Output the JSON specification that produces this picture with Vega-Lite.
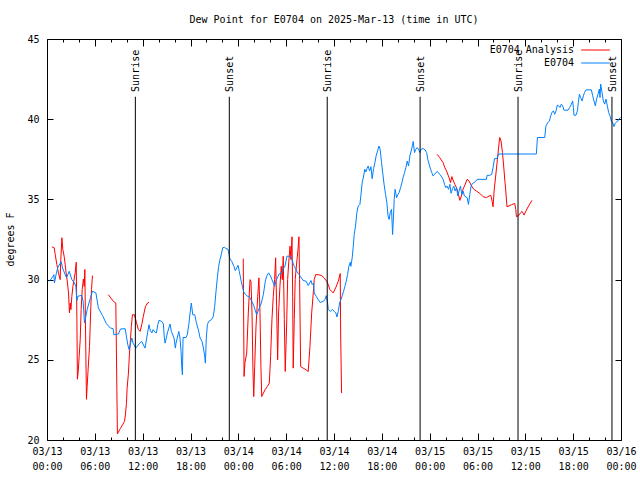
{
"$schema": "https://vega.github.io/schema/vega-lite/v6.json",
"width": 574, "height": 401,
"autosize": {"type": "none"},
"padding": {"left": 47, "top": 39, "right": 19, "bottom": 40},
"title": {"text": "Dew Point for E0704 on 2025-Mar-13 (time in UTC)", "font": "DejaVu Sans Mono", "fontSize": 10, "fontWeight": "normal", "color": "black", "anchor": "middle", "offset": 9},
"config": {
  "view": {"stroke": "black", "strokeWidth": 1},
  "axis": {"labelFont": "DejaVu Sans Mono", "labelFontSize": 10, "labelColor": "black", "tickColor": "black", "tickWidth": 1, "titleFont": "DejaVu Sans Mono", "titleFontSize": 10, "titleFontWeight": "normal", "titleColor": "black", "grid": false, "domain": false, "labelFlush": false, "labelOverlap": false}
},
"resolve": {"scale": {"x": "shared", "y": "shared"}, "axis": {"x": "independent", "y": "independent"}},
"datasets": {
"sun": [
{"t":"2025-03-13T11:05Z","label":"Sunrise"},
{"t":"2025-03-13T22:52Z","label":"Sunset"},
{"t":"2025-03-14T11:09Z","label":"Sunrise"},
{"t":"2025-03-14T22:48Z","label":"Sunset"},
{"t":"2025-03-15T11:05Z","label":"Sunrise"},
{"t":"2025-03-15T22:52Z","label":"Sunset"}
],
"obs": [
{"s":"E0704 Analysis","g":1,"t":"2025-03-13T00:37Z","v":32.04},
{"s":"E0704 Analysis","g":1,"t":"2025-03-13T00:54Z","v":31.98},
{"s":"E0704 Analysis","g":1,"t":"2025-03-13T01:02Z","v":31.56},
{"s":"E0704 Analysis","g":1,"t":"2025-03-13T01:14Z","v":30.94},
{"s":"E0704 Analysis","g":1,"t":"2025-03-13T01:26Z","v":30.42},
{"s":"E0704 Analysis","g":1,"t":"2025-03-13T01:39Z","v":30.0},
{"s":"E0704 Analysis","g":1,"t":"2025-03-13T01:44Z","v":31.25},
{"s":"E0704 Analysis","g":1,"t":"2025-03-13T01:52Z","v":32.61},
{"s":"E0704 Analysis","g":1,"t":"2025-03-13T01:59Z","v":31.88},
{"s":"E0704 Analysis","g":1,"t":"2025-03-13T02:09Z","v":31.46},
{"s":"E0704 Analysis","g":1,"t":"2025-03-13T02:17Z","v":30.94},
{"s":"E0704 Analysis","g":1,"t":"2025-03-13T02:24Z","v":30.42},
{"s":"E0704 Analysis","g":1,"t":"2025-03-13T02:34Z","v":29.79},
{"s":"E0704 Analysis","g":1,"t":"2025-03-13T02:42Z","v":29.17},
{"s":"E0704 Analysis","g":1,"t":"2025-03-13T02:49Z","v":27.92},
{"s":"E0704 Analysis","g":1,"t":"2025-03-13T02:55Z","v":28.54},
{"s":"E0704 Analysis","g":1,"t":"2025-03-13T03:00Z","v":28.13},
{"s":"E0704 Analysis","g":1,"t":"2025-03-13T03:07Z","v":28.96},
{"s":"E0704 Analysis","g":1,"t":"2025-03-13T03:15Z","v":29.58},
{"s":"E0704 Analysis","g":1,"t":"2025-03-13T03:32Z","v":30.42},
{"s":"E0704 Analysis","g":1,"t":"2025-03-13T03:40Z","v":31.08},
{"s":"E0704 Analysis","g":1,"t":"2025-03-13T03:45Z","v":27.5},
{"s":"E0704 Analysis","g":1,"t":"2025-03-13T03:49Z","v":23.79},
{"s":"E0704 Analysis","g":1,"t":"2025-03-13T03:55Z","v":24.27},
{"s":"E0704 Analysis","g":1,"t":"2025-03-13T04:02Z","v":25.21},
{"s":"E0704 Analysis","g":1,"t":"2025-03-13T04:10Z","v":26.25},
{"s":"E0704 Analysis","g":1,"t":"2025-03-13T04:17Z","v":28.13},
{"s":"E0704 Analysis","g":1,"t":"2025-03-13T04:25Z","v":29.38},
{"s":"E0704 Analysis","g":1,"t":"2025-03-13T04:34Z","v":30.04},
{"s":"E0704 Analysis","g":1,"t":"2025-03-13T04:40Z","v":29.58},
{"s":"E0704 Analysis","g":1,"t":"2025-03-13T04:45Z","v":30.63},
{"s":"E0704 Analysis","g":1,"t":"2025-03-13T04:49Z","v":27.5},
{"s":"E0704 Analysis","g":1,"t":"2025-03-13T04:57Z","v":22.54},
{"s":"E0704 Analysis","g":1,"t":"2025-03-13T05:02Z","v":23.33},
{"s":"E0704 Analysis","g":1,"t":"2025-03-13T05:10Z","v":24.48},
{"s":"E0704 Analysis","g":1,"t":"2025-03-13T05:20Z","v":25.83},
{"s":"E0704 Analysis","g":1,"t":"2025-03-13T05:25Z","v":27.08},
{"s":"E0704 Analysis","g":1,"t":"2025-03-13T05:30Z","v":28.33},
{"s":"E0704 Analysis","g":1,"t":"2025-03-13T05:35Z","v":29.38},
{"s":"E0704 Analysis","g":1,"t":"2025-03-13T05:42Z","v":30.25},
{"s":"E0704 Analysis","g":2,"t":"2025-03-13T07:42Z","v":29.06},
{"s":"E0704 Analysis","g":2,"t":"2025-03-13T08:00Z","v":28.85},
{"s":"E0704 Analysis","g":2,"t":"2025-03-13T08:20Z","v":28.64},
{"s":"E0704 Analysis","g":2,"t":"2025-03-13T08:38Z","v":28.54},
{"s":"E0704 Analysis","g":2,"t":"2025-03-13T08:50Z","v":20.38},
{"s":"E0704 Analysis","g":2,"t":"2025-03-13T08:58Z","v":20.5},
{"s":"E0704 Analysis","g":2,"t":"2025-03-13T09:13Z","v":20.73},
{"s":"E0704 Analysis","g":2,"t":"2025-03-13T09:28Z","v":20.94},
{"s":"E0704 Analysis","g":2,"t":"2025-03-13T09:43Z","v":21.15},
{"s":"E0704 Analysis","g":2,"t":"2025-03-13T09:50Z","v":21.56},
{"s":"E0704 Analysis","g":2,"t":"2025-03-13T09:58Z","v":22.29},
{"s":"E0704 Analysis","g":2,"t":"2025-03-13T10:03Z","v":23.23},
{"s":"E0704 Analysis","g":2,"t":"2025-03-13T10:13Z","v":24.17},
{"s":"E0704 Analysis","g":2,"t":"2025-03-13T10:20Z","v":25.31},
{"s":"E0704 Analysis","g":2,"t":"2025-03-13T10:28Z","v":26.25},
{"s":"E0704 Analysis","g":2,"t":"2025-03-13T10:35Z","v":27.08},
{"s":"E0704 Analysis","g":2,"t":"2025-03-13T10:43Z","v":27.81},
{"s":"E0704 Analysis","g":2,"t":"2025-03-13T10:58Z","v":27.81},
{"s":"E0704 Analysis","g":2,"t":"2025-03-13T11:13Z","v":27.33},
{"s":"E0704 Analysis","g":2,"t":"2025-03-13T11:28Z","v":26.88},
{"s":"E0704 Analysis","g":2,"t":"2025-03-13T11:41Z","v":26.77},
{"s":"E0704 Analysis","g":2,"t":"2025-03-13T11:53Z","v":27.19},
{"s":"E0704 Analysis","g":2,"t":"2025-03-13T12:05Z","v":27.71},
{"s":"E0704 Analysis","g":2,"t":"2025-03-13T12:21Z","v":28.33},
{"s":"E0704 Analysis","g":2,"t":"2025-03-13T12:36Z","v":28.54},
{"s":"E0704 Analysis","g":2,"t":"2025-03-13T12:48Z","v":28.58},
{"s":"E0704 Analysis","g":3,"t":"2025-03-14T00:37Z","v":31.31},
{"s":"E0704 Analysis","g":3,"t":"2025-03-14T00:43Z","v":23.96},
{"s":"E0704 Analysis","g":3,"t":"2025-03-14T00:50Z","v":24.81},
{"s":"E0704 Analysis","g":3,"t":"2025-03-14T01:03Z","v":25.42},
{"s":"E0704 Analysis","g":3,"t":"2025-03-14T01:15Z","v":27.92},
{"s":"E0704 Analysis","g":3,"t":"2025-03-14T01:28Z","v":30.0},
{"s":"E0704 Analysis","g":3,"t":"2025-03-14T01:35Z","v":29.89},
{"s":"E0704 Analysis","g":3,"t":"2025-03-14T01:43Z","v":27.92},
{"s":"E0704 Analysis","g":3,"t":"2025-03-14T01:50Z","v":24.38},
{"s":"E0704 Analysis","g":3,"t":"2025-03-14T01:56Z","v":22.71},
{"s":"E0704 Analysis","g":3,"t":"2025-03-14T02:03Z","v":24.58},
{"s":"E0704 Analysis","g":3,"t":"2025-03-14T02:13Z","v":27.08},
{"s":"E0704 Analysis","g":3,"t":"2025-03-14T02:26Z","v":28.96},
{"s":"E0704 Analysis","g":3,"t":"2025-03-14T02:35Z","v":30.11},
{"s":"E0704 Analysis","g":3,"t":"2025-03-14T02:43Z","v":27.92},
{"s":"E0704 Analysis","g":3,"t":"2025-03-14T02:50Z","v":24.58},
{"s":"E0704 Analysis","g":3,"t":"2025-03-14T02:56Z","v":22.71},
{"s":"E0704 Analysis","g":3,"t":"2025-03-14T03:21Z","v":23.13},
{"s":"E0704 Analysis","g":3,"t":"2025-03-14T03:38Z","v":23.33},
{"s":"E0704 Analysis","g":3,"t":"2025-03-14T03:53Z","v":23.54},
{"s":"E0704 Analysis","g":3,"t":"2025-03-14T04:03Z","v":25.21},
{"s":"E0704 Analysis","g":3,"t":"2025-03-14T04:13Z","v":27.5},
{"s":"E0704 Analysis","g":3,"t":"2025-03-14T04:23Z","v":28.96},
{"s":"E0704 Analysis","g":3,"t":"2025-03-14T04:33Z","v":30.0},
{"s":"E0704 Analysis","g":3,"t":"2025-03-14T04:41Z","v":31.36},
{"s":"E0704 Analysis","g":3,"t":"2025-03-14T04:48Z","v":28.33},
{"s":"E0704 Analysis","g":3,"t":"2025-03-14T04:56Z","v":25.0},
{"s":"E0704 Analysis","g":3,"t":"2025-03-14T05:03Z","v":27.92},
{"s":"E0704 Analysis","g":3,"t":"2025-03-14T05:13Z","v":29.58},
{"s":"E0704 Analysis","g":3,"t":"2025-03-14T05:23Z","v":30.83},
{"s":"E0704 Analysis","g":3,"t":"2025-03-14T05:31Z","v":30.0},
{"s":"E0704 Analysis","g":3,"t":"2025-03-14T05:38Z","v":31.46},
{"s":"E0704 Analysis","g":3,"t":"2025-03-14T05:46Z","v":27.5},
{"s":"E0704 Analysis","g":3,"t":"2025-03-14T05:53Z","v":24.27},
{"s":"E0704 Analysis","g":3,"t":"2025-03-14T06:04Z","v":27.29},
{"s":"E0704 Analysis","g":3,"t":"2025-03-14T06:11Z","v":30.0},
{"s":"E0704 Analysis","g":3,"t":"2025-03-14T06:19Z","v":31.04},
{"s":"E0704 Analysis","g":3,"t":"2025-03-14T06:29Z","v":32.08},
{"s":"E0704 Analysis","g":3,"t":"2025-03-14T06:36Z","v":31.25},
{"s":"E0704 Analysis","g":3,"t":"2025-03-14T06:44Z","v":32.67},
{"s":"E0704 Analysis","g":3,"t":"2025-03-14T06:49Z","v":28.96},
{"s":"E0704 Analysis","g":3,"t":"2025-03-14T06:53Z","v":24.48},
{"s":"E0704 Analysis","g":3,"t":"2025-03-14T07:01Z","v":27.5},
{"s":"E0704 Analysis","g":3,"t":"2025-03-14T07:08Z","v":30.0},
{"s":"E0704 Analysis","g":3,"t":"2025-03-14T07:19Z","v":31.04},
{"s":"E0704 Analysis","g":3,"t":"2025-03-14T07:29Z","v":31.88},
{"s":"E0704 Analysis","g":3,"t":"2025-03-14T07:36Z","v":32.67},
{"s":"E0704 Analysis","g":3,"t":"2025-03-14T07:41Z","v":30.0},
{"s":"E0704 Analysis","g":3,"t":"2025-03-14T07:49Z","v":24.58},
{"s":"E0704 Analysis","g":3,"t":"2025-03-14T08:08Z","v":24.48},
{"s":"E0704 Analysis","g":3,"t":"2025-03-14T08:29Z","v":24.38},
{"s":"E0704 Analysis","g":3,"t":"2025-03-14T08:46Z","v":24.27},
{"s":"E0704 Analysis","g":3,"t":"2025-03-14T08:59Z","v":25.83},
{"s":"E0704 Analysis","g":3,"t":"2025-03-14T09:12Z","v":27.92},
{"s":"E0704 Analysis","g":3,"t":"2025-03-14T09:24Z","v":29.17},
{"s":"E0704 Analysis","g":3,"t":"2025-03-14T09:31Z","v":30.0},
{"s":"E0704 Analysis","g":3,"t":"2025-03-14T09:42Z","v":30.31},
{"s":"E0704 Analysis","g":3,"t":"2025-03-14T10:01Z","v":30.31},
{"s":"E0704 Analysis","g":3,"t":"2025-03-14T10:27Z","v":30.25},
{"s":"E0704 Analysis","g":3,"t":"2025-03-14T10:46Z","v":30.11},
{"s":"E0704 Analysis","g":3,"t":"2025-03-14T11:05Z","v":29.89},
{"s":"E0704 Analysis","g":3,"t":"2025-03-14T11:17Z","v":29.69},
{"s":"E0704 Analysis","g":3,"t":"2025-03-14T11:29Z","v":29.38},
{"s":"E0704 Analysis","g":3,"t":"2025-03-14T11:54Z","v":29.17},
{"s":"E0704 Analysis","g":3,"t":"2025-03-14T12:12Z","v":29.48},
{"s":"E0704 Analysis","g":3,"t":"2025-03-14T12:32Z","v":29.89},
{"s":"E0704 Analysis","g":3,"t":"2025-03-14T12:47Z","v":30.38},
{"s":"E0704 Analysis","g":3,"t":"2025-03-14T12:50Z","v":26.67},
{"s":"E0704 Analysis","g":3,"t":"2025-03-14T12:57Z","v":22.92},
{"s":"E0704 Analysis","g":4,"t":"2025-03-15T00:56Z","v":37.81},
{"s":"E0704 Analysis","g":4,"t":"2025-03-15T01:16Z","v":37.6},
{"s":"E0704 Analysis","g":4,"t":"2025-03-15T01:41Z","v":37.29},
{"s":"E0704 Analysis","g":4,"t":"2025-03-15T01:54Z","v":36.98},
{"s":"E0704 Analysis","g":4,"t":"2025-03-15T02:07Z","v":36.77},
{"s":"E0704 Analysis","g":4,"t":"2025-03-15T02:26Z","v":36.35},
{"s":"E0704 Analysis","g":4,"t":"2025-03-15T02:37Z","v":36.04},
{"s":"E0704 Analysis","g":4,"t":"2025-03-15T02:47Z","v":36.42},
{"s":"E0704 Analysis","g":4,"t":"2025-03-15T02:56Z","v":36.21},
{"s":"E0704 Analysis","g":4,"t":"2025-03-15T03:09Z","v":35.94},
{"s":"E0704 Analysis","g":4,"t":"2025-03-15T03:22Z","v":35.73},
{"s":"E0704 Analysis","g":4,"t":"2025-03-15T03:34Z","v":35.42},
{"s":"E0704 Analysis","g":4,"t":"2025-03-15T03:47Z","v":34.94},
{"s":"E0704 Analysis","g":4,"t":"2025-03-15T03:59Z","v":35.21},
{"s":"E0704 Analysis","g":4,"t":"2025-03-15T04:11Z","v":35.63},
{"s":"E0704 Analysis","g":4,"t":"2025-03-15T04:27Z","v":35.94},
{"s":"E0704 Analysis","g":4,"t":"2025-03-15T04:42Z","v":36.25},
{"s":"E0704 Analysis","g":4,"t":"2025-03-15T04:57Z","v":36.14},
{"s":"E0704 Analysis","g":4,"t":"2025-03-15T05:15Z","v":35.83},
{"s":"E0704 Analysis","g":4,"t":"2025-03-15T05:32Z","v":35.63},
{"s":"E0704 Analysis","g":4,"t":"2025-03-15T05:52Z","v":35.52},
{"s":"E0704 Analysis","g":4,"t":"2025-03-15T06:17Z","v":35.38},
{"s":"E0704 Analysis","g":4,"t":"2025-03-15T06:42Z","v":35.17},
{"s":"E0704 Analysis","g":4,"t":"2025-03-15T07:07Z","v":35.11},
{"s":"E0704 Analysis","g":4,"t":"2025-03-15T07:27Z","v":35.21},
{"s":"E0704 Analysis","g":4,"t":"2025-03-15T07:40Z","v":35.25},
{"s":"E0704 Analysis","g":4,"t":"2025-03-15T07:50Z","v":34.89},
{"s":"E0704 Analysis","g":4,"t":"2025-03-15T07:57Z","v":34.54},
{"s":"E0704 Analysis","g":4,"t":"2025-03-15T08:05Z","v":35.52},
{"s":"E0704 Analysis","g":4,"t":"2025-03-15T08:17Z","v":36.46},
{"s":"E0704 Analysis","g":4,"t":"2025-03-15T08:30Z","v":37.5},
{"s":"E0704 Analysis","g":4,"t":"2025-03-15T08:40Z","v":38.33},
{"s":"E0704 Analysis","g":4,"t":"2025-03-15T08:47Z","v":38.86},
{"s":"E0704 Analysis","g":4,"t":"2025-03-15T08:57Z","v":38.64},
{"s":"E0704 Analysis","g":4,"t":"2025-03-15T09:08Z","v":37.92},
{"s":"E0704 Analysis","g":4,"t":"2025-03-15T09:17Z","v":37.08},
{"s":"E0704 Analysis","g":4,"t":"2025-03-15T09:27Z","v":36.04},
{"s":"E0704 Analysis","g":4,"t":"2025-03-15T09:33Z","v":35.52},
{"s":"E0704 Analysis","g":4,"t":"2025-03-15T09:42Z","v":34.54},
{"s":"E0704 Analysis","g":4,"t":"2025-03-15T10:16Z","v":34.67},
{"s":"E0704 Analysis","g":4,"t":"2025-03-15T10:40Z","v":34.75},
{"s":"E0704 Analysis","g":4,"t":"2025-03-15T10:48Z","v":34.38},
{"s":"E0704 Analysis","g":4,"t":"2025-03-15T10:53Z","v":33.92},
{"s":"E0704 Analysis","g":4,"t":"2025-03-15T11:10Z","v":34.0},
{"s":"E0704 Analysis","g":4,"t":"2025-03-15T11:25Z","v":34.17},
{"s":"E0704 Analysis","g":4,"t":"2025-03-15T11:35Z","v":34.25},
{"s":"E0704 Analysis","g":4,"t":"2025-03-15T11:46Z","v":34.11},
{"s":"E0704 Analysis","g":4,"t":"2025-03-15T11:50Z","v":34.02},
{"s":"E0704 Analysis","g":4,"t":"2025-03-15T12:01Z","v":34.21},
{"s":"E0704 Analysis","g":4,"t":"2025-03-15T12:16Z","v":34.46},
{"s":"E0704 Analysis","g":4,"t":"2025-03-15T12:33Z","v":34.71},
{"s":"E0704 Analysis","g":4,"t":"2025-03-15T12:50Z","v":34.94},
{"s":"E0704","g":0,"t":"2025-03-13T00:17Z","v":29.89},
{"s":"E0704","g":0,"t":"2025-03-13T00:41Z","v":30.14},
{"s":"E0704","g":0,"t":"2025-03-13T00:52Z","v":30.31},
{"s":"E0704","g":0,"t":"2025-03-13T00:56Z","v":29.79},
{"s":"E0704","g":0,"t":"2025-03-13T01:11Z","v":30.42},
{"s":"E0704","g":0,"t":"2025-03-13T01:22Z","v":30.77},
{"s":"E0704","g":0,"t":"2025-03-13T01:47Z","v":31.11},
{"s":"E0704","g":0,"t":"2025-03-13T01:57Z","v":30.73},
{"s":"E0704","g":0,"t":"2025-03-13T02:17Z","v":30.31},
{"s":"E0704","g":0,"t":"2025-03-13T02:27Z","v":30.11},
{"s":"E0704","g":0,"t":"2025-03-13T02:47Z","v":30.52},
{"s":"E0704","g":0,"t":"2025-03-13T03:07Z","v":30.0},
{"s":"E0704","g":0,"t":"2025-03-13T03:27Z","v":29.79},
{"s":"E0704","g":0,"t":"2025-03-13T03:37Z","v":29.58},
{"s":"E0704","g":0,"t":"2025-03-13T03:45Z","v":28.69},
{"s":"E0704","g":0,"t":"2025-03-13T03:52Z","v":28.96},
{"s":"E0704","g":0,"t":"2025-03-13T04:22Z","v":29.02},
{"s":"E0704","g":0,"t":"2025-03-13T04:32Z","v":28.64},
{"s":"E0704","g":0,"t":"2025-03-13T04:42Z","v":27.29},
{"s":"E0704","g":0,"t":"2025-03-13T05:02Z","v":28.13},
{"s":"E0704","g":0,"t":"2025-03-13T05:23Z","v":28.75},
{"s":"E0704","g":0,"t":"2025-03-13T05:42Z","v":29.27},
{"s":"E0704","g":0,"t":"2025-03-13T06:08Z","v":29.17},
{"s":"E0704","g":0,"t":"2025-03-13T06:27Z","v":28.23},
{"s":"E0704","g":0,"t":"2025-03-13T06:57Z","v":27.77},
{"s":"E0704","g":0,"t":"2025-03-13T07:27Z","v":27.25},
{"s":"E0704","g":0,"t":"2025-03-13T07:57Z","v":26.98},
{"s":"E0704","g":0,"t":"2025-03-13T08:18Z","v":26.94},
{"s":"E0704","g":0,"t":"2025-03-13T08:23Z","v":26.56},
{"s":"E0704","g":0,"t":"2025-03-13T08:58Z","v":26.61},
{"s":"E0704","g":0,"t":"2025-03-13T09:13Z","v":26.92},
{"s":"E0704","g":0,"t":"2025-03-13T09:48Z","v":26.94},
{"s":"E0704","g":0,"t":"2025-03-13T10:08Z","v":25.94},
{"s":"E0704","g":0,"t":"2025-03-13T10:18Z","v":25.63},
{"s":"E0704","g":0,"t":"2025-03-13T10:38Z","v":26.36},
{"s":"E0704","g":0,"t":"2025-03-13T10:48Z","v":26.04},
{"s":"E0704","g":0,"t":"2025-03-13T11:08Z","v":25.73},
{"s":"E0704","g":0,"t":"2025-03-13T11:38Z","v":26.04},
{"s":"E0704","g":0,"t":"2025-03-13T11:53Z","v":26.14},
{"s":"E0704","g":0,"t":"2025-03-13T12:18Z","v":25.73},
{"s":"E0704","g":0,"t":"2025-03-13T12:38Z","v":26.73},
{"s":"E0704","g":0,"t":"2025-03-13T12:48Z","v":27.19},
{"s":"E0704","g":0,"t":"2025-03-13T12:58Z","v":26.81},
{"s":"E0704","g":0,"t":"2025-03-13T13:09Z","v":26.67},
{"s":"E0704","g":0,"t":"2025-03-13T13:18Z","v":26.88},
{"s":"E0704","g":0,"t":"2025-03-13T13:33Z","v":26.73},
{"s":"E0704","g":0,"t":"2025-03-13T13:43Z","v":26.67},
{"s":"E0704","g":0,"t":"2025-03-13T13:54Z","v":27.19},
{"s":"E0704","g":0,"t":"2025-03-13T14:03Z","v":27.46},
{"s":"E0704","g":0,"t":"2025-03-13T14:24Z","v":27.39},
{"s":"E0704","g":0,"t":"2025-03-13T14:36Z","v":27.23},
{"s":"E0704","g":0,"t":"2025-03-13T14:43Z","v":26.36},
{"s":"E0704","g":0,"t":"2025-03-13T14:49Z","v":26.04},
{"s":"E0704","g":0,"t":"2025-03-13T15:06Z","v":26.67},
{"s":"E0704","g":0,"t":"2025-03-13T15:26Z","v":27.23},
{"s":"E0704","g":0,"t":"2025-03-13T15:36Z","v":26.77},
{"s":"E0704","g":0,"t":"2025-03-13T15:56Z","v":26.36},
{"s":"E0704","g":0,"t":"2025-03-13T16:06Z","v":25.73},
{"s":"E0704","g":0,"t":"2025-03-13T16:11Z","v":26.04},
{"s":"E0704","g":0,"t":"2025-03-13T16:32Z","v":26.77},
{"s":"E0704","g":0,"t":"2025-03-13T16:41Z","v":26.36},
{"s":"E0704","g":0,"t":"2025-03-13T16:49Z","v":25.52},
{"s":"E0704","g":0,"t":"2025-03-13T16:54Z","v":24.58},
{"s":"E0704","g":0,"t":"2025-03-13T16:59Z","v":24.06},
{"s":"E0704","g":0,"t":"2025-03-13T17:04Z","v":26.39},
{"s":"E0704","g":0,"t":"2025-03-13T17:26Z","v":26.39},
{"s":"E0704","g":0,"t":"2025-03-13T17:36Z","v":26.56},
{"s":"E0704","g":0,"t":"2025-03-13T17:47Z","v":27.19},
{"s":"E0704","g":0,"t":"2025-03-13T17:57Z","v":27.92},
{"s":"E0704","g":0,"t":"2025-03-13T18:06Z","v":28.54},
{"s":"E0704","g":0,"t":"2025-03-13T18:17Z","v":27.81},
{"s":"E0704","g":0,"t":"2025-03-13T18:32Z","v":27.81},
{"s":"E0704","g":0,"t":"2025-03-13T18:42Z","v":27.39},
{"s":"E0704","g":0,"t":"2025-03-13T19:02Z","v":26.77},
{"s":"E0704","g":0,"t":"2025-03-13T19:12Z","v":26.36},
{"s":"E0704","g":0,"t":"2025-03-13T19:27Z","v":26.14},
{"s":"E0704","g":0,"t":"2025-03-13T19:37Z","v":25.73},
{"s":"E0704","g":0,"t":"2025-03-13T19:47Z","v":25.21},
{"s":"E0704","g":0,"t":"2025-03-13T19:52Z","v":24.79},
{"s":"E0704","g":0,"t":"2025-03-13T19:59Z","v":26.36},
{"s":"E0704","g":0,"t":"2025-03-13T20:07Z","v":27.19},
{"s":"E0704","g":0,"t":"2025-03-13T20:17Z","v":27.39},
{"s":"E0704","g":0,"t":"2025-03-13T20:37Z","v":27.5},
{"s":"E0704","g":0,"t":"2025-03-13T20:52Z","v":27.71},
{"s":"E0704","g":0,"t":"2025-03-13T21:02Z","v":28.33},
{"s":"E0704","g":0,"t":"2025-03-13T21:12Z","v":29.27},
{"s":"E0704","g":0,"t":"2025-03-13T21:22Z","v":30.11},
{"s":"E0704","g":0,"t":"2025-03-13T21:32Z","v":30.83},
{"s":"E0704","g":0,"t":"2025-03-13T21:42Z","v":31.25},
{"s":"E0704","g":0,"t":"2025-03-13T21:52Z","v":31.56},
{"s":"E0704","g":0,"t":"2025-03-13T22:02Z","v":31.98},
{"s":"E0704","g":0,"t":"2025-03-13T22:15Z","v":32.02},
{"s":"E0704","g":0,"t":"2025-03-13T22:27Z","v":31.94},
{"s":"E0704","g":0,"t":"2025-03-13T22:42Z","v":31.89},
{"s":"E0704","g":0,"t":"2025-03-13T22:50Z","v":31.56},
{"s":"E0704","g":0,"t":"2025-03-13T22:57Z","v":31.29},
{"s":"E0704","g":0,"t":"2025-03-13T23:12Z","v":31.11},
{"s":"E0704","g":0,"t":"2025-03-13T23:27Z","v":30.83},
{"s":"E0704","g":0,"t":"2025-03-13T23:37Z","v":30.56},
{"s":"E0704","g":0,"t":"2025-03-13T23:48Z","v":30.73},
{"s":"E0704","g":0,"t":"2025-03-13T23:58Z","v":30.89},
{"s":"E0704","g":0,"t":"2025-03-14T00:07Z","v":30.52},
{"s":"E0704","g":0,"t":"2025-03-14T00:22Z","v":29.89},
{"s":"E0704","g":0,"t":"2025-03-14T00:33Z","v":29.48},
{"s":"E0704","g":0,"t":"2025-03-14T00:43Z","v":29.17},
{"s":"E0704","g":0,"t":"2025-03-14T00:58Z","v":29.06},
{"s":"E0704","g":0,"t":"2025-03-14T01:08Z","v":28.96},
{"s":"E0704","g":0,"t":"2025-03-14T01:23Z","v":28.96},
{"s":"E0704","g":0,"t":"2025-03-14T01:33Z","v":28.75},
{"s":"E0704","g":0,"t":"2025-03-14T01:48Z","v":28.54},
{"s":"E0704","g":0,"t":"2025-03-14T01:58Z","v":28.33},
{"s":"E0704","g":0,"t":"2025-03-14T02:08Z","v":28.06},
{"s":"E0704","g":0,"t":"2025-03-14T02:18Z","v":27.81},
{"s":"E0704","g":0,"t":"2025-03-14T02:28Z","v":28.02},
{"s":"E0704","g":0,"t":"2025-03-14T02:38Z","v":28.23},
{"s":"E0704","g":0,"t":"2025-03-14T02:53Z","v":28.54},
{"s":"E0704","g":0,"t":"2025-03-14T03:08Z","v":29.06},
{"s":"E0704","g":0,"t":"2025-03-14T03:23Z","v":29.89},
{"s":"E0704","g":0,"t":"2025-03-14T03:33Z","v":30.21},
{"s":"E0704","g":0,"t":"2025-03-14T03:48Z","v":30.42},
{"s":"E0704","g":0,"t":"2025-03-14T04:03Z","v":30.21},
{"s":"E0704","g":0,"t":"2025-03-14T04:13Z","v":30.0},
{"s":"E0704","g":0,"t":"2025-03-14T04:23Z","v":29.79},
{"s":"E0704","g":0,"t":"2025-03-14T04:33Z","v":29.58},
{"s":"E0704","g":0,"t":"2025-03-14T04:43Z","v":29.89},
{"s":"E0704","g":0,"t":"2025-03-14T04:53Z","v":30.11},
{"s":"E0704","g":0,"t":"2025-03-14T05:08Z","v":30.36},
{"s":"E0704","g":0,"t":"2025-03-14T05:26Z","v":30.38},
{"s":"E0704","g":0,"t":"2025-03-14T05:38Z","v":30.67},
{"s":"E0704","g":0,"t":"2025-03-14T05:51Z","v":30.83},
{"s":"E0704","g":0,"t":"2025-03-14T06:06Z","v":31.46},
{"s":"E0704","g":0,"t":"2025-03-14T06:29Z","v":31.46},
{"s":"E0704","g":0,"t":"2025-03-14T06:41Z","v":31.36},
{"s":"E0704","g":0,"t":"2025-03-14T06:51Z","v":31.04},
{"s":"E0704","g":0,"t":"2025-03-14T07:01Z","v":30.83},
{"s":"E0704","g":0,"t":"2025-03-14T07:11Z","v":30.67},
{"s":"E0704","g":0,"t":"2025-03-14T07:21Z","v":30.52},
{"s":"E0704","g":0,"t":"2025-03-14T07:31Z","v":30.38},
{"s":"E0704","g":0,"t":"2025-03-14T07:46Z","v":30.21},
{"s":"E0704","g":0,"t":"2025-03-14T08:06Z","v":29.96},
{"s":"E0704","g":0,"t":"2025-03-14T08:31Z","v":29.89},
{"s":"E0704","g":0,"t":"2025-03-14T08:46Z","v":29.63},
{"s":"E0704","g":0,"t":"2025-03-14T08:57Z","v":29.79},
{"s":"E0704","g":0,"t":"2025-03-14T09:07Z","v":29.94},
{"s":"E0704","g":0,"t":"2025-03-14T09:16Z","v":29.69},
{"s":"E0704","g":0,"t":"2025-03-14T09:27Z","v":29.79},
{"s":"E0704","g":0,"t":"2025-03-14T09:31Z","v":29.17},
{"s":"E0704","g":0,"t":"2025-03-14T09:46Z","v":28.96},
{"s":"E0704","g":0,"t":"2025-03-14T10:01Z","v":28.75},
{"s":"E0704","g":0,"t":"2025-03-14T10:16Z","v":28.58},
{"s":"E0704","g":0,"t":"2025-03-14T10:37Z","v":28.64},
{"s":"E0704","g":0,"t":"2025-03-14T10:52Z","v":28.75},
{"s":"E0704","g":0,"t":"2025-03-14T11:02Z","v":29.0},
{"s":"E0704","g":0,"t":"2025-03-14T11:12Z","v":28.54},
{"s":"E0704","g":0,"t":"2025-03-14T11:17Z","v":28.13},
{"s":"E0704","g":0,"t":"2025-03-14T11:32Z","v":28.02},
{"s":"E0704","g":0,"t":"2025-03-14T11:47Z","v":28.13},
{"s":"E0704","g":0,"t":"2025-03-14T12:02Z","v":28.02},
{"s":"E0704","g":0,"t":"2025-03-14T12:14Z","v":27.92},
{"s":"E0704","g":0,"t":"2025-03-14T12:22Z","v":27.67},
{"s":"E0704","g":0,"t":"2025-03-14T12:32Z","v":28.02},
{"s":"E0704","g":0,"t":"2025-03-14T12:42Z","v":28.54},
{"s":"E0704","g":0,"t":"2025-03-14T12:52Z","v":28.75},
{"s":"E0704","g":0,"t":"2025-03-14T13:02Z","v":29.0},
{"s":"E0704","g":0,"t":"2025-03-14T13:12Z","v":29.27},
{"s":"E0704","g":0,"t":"2025-03-14T13:22Z","v":29.58},
{"s":"E0704","g":0,"t":"2025-03-14T13:32Z","v":29.89},
{"s":"E0704","g":0,"t":"2025-03-14T13:42Z","v":30.31},
{"s":"E0704","g":0,"t":"2025-03-14T13:52Z","v":30.83},
{"s":"E0704","g":0,"t":"2025-03-14T14:02Z","v":31.08},
{"s":"E0704","g":0,"t":"2025-03-14T14:07Z","v":30.83},
{"s":"E0704","g":0,"t":"2025-03-14T14:17Z","v":31.36},
{"s":"E0704","g":0,"t":"2025-03-14T14:25Z","v":32.08},
{"s":"E0704","g":0,"t":"2025-03-14T14:32Z","v":32.81},
{"s":"E0704","g":0,"t":"2025-03-14T14:42Z","v":33.33},
{"s":"E0704","g":0,"t":"2025-03-14T14:52Z","v":34.17},
{"s":"E0704","g":0,"t":"2025-03-14T15:02Z","v":34.58},
{"s":"E0704","g":0,"t":"2025-03-14T15:15Z","v":34.69},
{"s":"E0704","g":0,"t":"2025-03-14T15:22Z","v":35.21},
{"s":"E0704","g":0,"t":"2025-03-14T15:32Z","v":36.04},
{"s":"E0704","g":0,"t":"2025-03-14T15:43Z","v":36.46},
{"s":"E0704","g":0,"t":"2025-03-14T15:52Z","v":36.88},
{"s":"E0704","g":0,"t":"2025-03-14T16:00Z","v":36.71},
{"s":"E0704","g":0,"t":"2025-03-14T16:08Z","v":36.92},
{"s":"E0704","g":0,"t":"2025-03-14T16:17Z","v":37.08},
{"s":"E0704","g":0,"t":"2025-03-14T16:28Z","v":36.77},
{"s":"E0704","g":0,"t":"2025-03-14T16:38Z","v":37.04},
{"s":"E0704","g":0,"t":"2025-03-14T16:47Z","v":36.29},
{"s":"E0704","g":0,"t":"2025-03-14T16:58Z","v":36.92},
{"s":"E0704","g":0,"t":"2025-03-14T17:08Z","v":37.29},
{"s":"E0704","g":0,"t":"2025-03-14T17:17Z","v":37.71},
{"s":"E0704","g":0,"t":"2025-03-14T17:28Z","v":38.02},
{"s":"E0704","g":0,"t":"2025-03-14T17:38Z","v":38.33},
{"s":"E0704","g":0,"t":"2025-03-14T17:47Z","v":38.13},
{"s":"E0704","g":0,"t":"2025-03-14T17:58Z","v":37.29},
{"s":"E0704","g":0,"t":"2025-03-14T18:08Z","v":36.56},
{"s":"E0704","g":0,"t":"2025-03-14T18:17Z","v":35.94},
{"s":"E0704","g":0,"t":"2025-03-14T18:28Z","v":35.31},
{"s":"E0704","g":0,"t":"2025-03-14T18:38Z","v":34.79},
{"s":"E0704","g":0,"t":"2025-03-14T18:47Z","v":33.96},
{"s":"E0704","g":0,"t":"2025-03-14T18:55Z","v":33.75},
{"s":"E0704","g":0,"t":"2025-03-14T19:03Z","v":34.17},
{"s":"E0704","g":0,"t":"2025-03-14T19:13Z","v":34.38},
{"s":"E0704","g":0,"t":"2025-03-14T19:21Z","v":32.81},
{"s":"E0704","g":0,"t":"2025-03-14T19:28Z","v":33.96},
{"s":"E0704","g":0,"t":"2025-03-14T19:33Z","v":35.0},
{"s":"E0704","g":0,"t":"2025-03-14T19:40Z","v":35.63},
{"s":"E0704","g":0,"t":"2025-03-14T19:51Z","v":35.11},
{"s":"E0704","g":0,"t":"2025-03-14T20:01Z","v":35.31},
{"s":"E0704","g":0,"t":"2025-03-14T20:10Z","v":35.42},
{"s":"E0704","g":0,"t":"2025-03-14T20:21Z","v":35.73},
{"s":"E0704","g":0,"t":"2025-03-14T20:31Z","v":36.04},
{"s":"E0704","g":0,"t":"2025-03-14T20:40Z","v":36.36},
{"s":"E0704","g":0,"t":"2025-03-14T20:51Z","v":36.67},
{"s":"E0704","g":0,"t":"2025-03-14T21:01Z","v":36.98},
{"s":"E0704","g":0,"t":"2025-03-14T21:11Z","v":37.39},
{"s":"E0704","g":0,"t":"2025-03-14T21:21Z","v":37.08},
{"s":"E0704","g":0,"t":"2025-03-14T21:31Z","v":37.71},
{"s":"E0704","g":0,"t":"2025-03-14T21:41Z","v":38.02},
{"s":"E0704","g":0,"t":"2025-03-14T21:51Z","v":38.38},
{"s":"E0704","g":0,"t":"2025-03-14T21:56Z","v":38.61},
{"s":"E0704","g":0,"t":"2025-03-14T22:06Z","v":37.92},
{"s":"E0704","g":0,"t":"2025-03-14T22:16Z","v":38.13},
{"s":"E0704","g":0,"t":"2025-03-14T22:26Z","v":38.23},
{"s":"E0704","g":0,"t":"2025-03-14T22:36Z","v":38.13},
{"s":"E0704","g":0,"t":"2025-03-14T22:46Z","v":37.92},
{"s":"E0704","g":0,"t":"2025-03-14T22:56Z","v":38.13},
{"s":"E0704","g":0,"t":"2025-03-14T23:11Z","v":38.17},
{"s":"E0704","g":0,"t":"2025-03-14T23:26Z","v":38.08},
{"s":"E0704","g":0,"t":"2025-03-14T23:37Z","v":37.92},
{"s":"E0704","g":0,"t":"2025-03-14T23:46Z","v":37.5},
{"s":"E0704","g":0,"t":"2025-03-14T23:56Z","v":37.19},
{"s":"E0704","g":0,"t":"2025-03-15T00:07Z","v":36.88},
{"s":"E0704","g":0,"t":"2025-03-15T00:16Z","v":36.67},
{"s":"E0704","g":0,"t":"2025-03-15T00:26Z","v":36.46},
{"s":"E0704","g":0,"t":"2025-03-15T00:37Z","v":36.56},
{"s":"E0704","g":0,"t":"2025-03-15T00:46Z","v":36.67},
{"s":"E0704","g":0,"t":"2025-03-15T00:56Z","v":36.73},
{"s":"E0704","g":0,"t":"2025-03-15T01:07Z","v":36.67},
{"s":"E0704","g":0,"t":"2025-03-15T01:16Z","v":36.56},
{"s":"E0704","g":0,"t":"2025-03-15T01:26Z","v":36.46},
{"s":"E0704","g":0,"t":"2025-03-15T01:41Z","v":36.25},
{"s":"E0704","g":0,"t":"2025-03-15T01:52Z","v":35.94},
{"s":"E0704","g":0,"t":"2025-03-15T02:02Z","v":35.73},
{"s":"E0704","g":0,"t":"2025-03-15T02:11Z","v":35.83},
{"s":"E0704","g":0,"t":"2025-03-15T02:22Z","v":35.63},
{"s":"E0704","g":0,"t":"2025-03-15T02:32Z","v":35.94},
{"s":"E0704","g":0,"t":"2025-03-15T02:41Z","v":35.38},
{"s":"E0704","g":0,"t":"2025-03-15T02:52Z","v":35.67},
{"s":"E0704","g":0,"t":"2025-03-15T03:02Z","v":35.83},
{"s":"E0704","g":0,"t":"2025-03-15T03:11Z","v":35.52},
{"s":"E0704","g":0,"t":"2025-03-15T03:22Z","v":35.73},
{"s":"E0704","g":0,"t":"2025-03-15T03:32Z","v":35.21},
{"s":"E0704","g":0,"t":"2025-03-15T03:41Z","v":35.52},
{"s":"E0704","g":0,"t":"2025-03-15T03:52Z","v":35.83},
{"s":"E0704","g":0,"t":"2025-03-15T04:02Z","v":35.31},
{"s":"E0704","g":0,"t":"2025-03-15T04:11Z","v":35.52},
{"s":"E0704","g":0,"t":"2025-03-15T04:22Z","v":35.21},
{"s":"E0704","g":0,"t":"2025-03-15T04:42Z","v":35.11},
{"s":"E0704","g":0,"t":"2025-03-15T04:52Z","v":34.69},
{"s":"E0704","g":0,"t":"2025-03-15T05:02Z","v":35.31},
{"s":"E0704","g":0,"t":"2025-03-15T05:12Z","v":35.83},
{"s":"E0704","g":0,"t":"2025-03-15T05:22Z","v":36.0},
{"s":"E0704","g":0,"t":"2025-03-15T05:32Z","v":36.04},
{"s":"E0704","g":0,"t":"2025-03-15T05:47Z","v":36.14},
{"s":"E0704","g":0,"t":"2025-03-15T05:57Z","v":36.25},
{"s":"E0704","g":0,"t":"2025-03-15T07:07Z","v":36.25},
{"s":"E0704","g":0,"t":"2025-03-15T07:12Z","v":36.5},
{"s":"E0704","g":0,"t":"2025-03-15T07:32Z","v":36.5},
{"s":"E0704","g":0,"t":"2025-03-15T07:47Z","v":36.56},
{"s":"E0704","g":0,"t":"2025-03-15T07:57Z","v":36.98},
{"s":"E0704","g":0,"t":"2025-03-15T08:08Z","v":37.54},
{"s":"E0704","g":0,"t":"2025-03-15T08:27Z","v":37.54},
{"s":"E0704","g":0,"t":"2025-03-15T08:38Z","v":37.83},
{"s":"E0704","g":0,"t":"2025-03-15T13:23Z","v":37.83},
{"s":"E0704","g":0,"t":"2025-03-15T13:31Z","v":38.86},
{"s":"E0704","g":0,"t":"2025-03-15T14:26Z","v":38.86},
{"s":"E0704","g":0,"t":"2025-03-15T14:35Z","v":39.58},
{"s":"E0704","g":0,"t":"2025-03-15T14:50Z","v":39.79},
{"s":"E0704","g":0,"t":"2025-03-15T15:01Z","v":39.89},
{"s":"E0704","g":0,"t":"2025-03-15T15:11Z","v":40.21},
{"s":"E0704","g":0,"t":"2025-03-15T15:21Z","v":40.42},
{"s":"E0704","g":0,"t":"2025-03-15T15:31Z","v":40.52},
{"s":"E0704","g":0,"t":"2025-03-15T15:41Z","v":40.31},
{"s":"E0704","g":0,"t":"2025-03-15T15:51Z","v":40.52},
{"s":"E0704","g":0,"t":"2025-03-15T16:01Z","v":40.88},
{"s":"E0704","g":0,"t":"2025-03-15T16:11Z","v":40.83},
{"s":"E0704","g":0,"t":"2025-03-15T16:21Z","v":40.73},
{"s":"E0704","g":0,"t":"2025-03-15T16:31Z","v":40.94},
{"s":"E0704","g":0,"t":"2025-03-15T16:41Z","v":40.83},
{"s":"E0704","g":0,"t":"2025-03-15T16:51Z","v":40.56},
{"s":"E0704","g":0,"t":"2025-03-15T17:21Z","v":40.56},
{"s":"E0704","g":0,"t":"2025-03-15T17:34Z","v":40.73},
{"s":"E0704","g":0,"t":"2025-03-15T17:47Z","v":40.94},
{"s":"E0704","g":0,"t":"2025-03-15T17:56Z","v":41.14},
{"s":"E0704","g":0,"t":"2025-03-15T18:02Z","v":40.73},
{"s":"E0704","g":0,"t":"2025-03-15T18:06Z","v":40.25},
{"s":"E0704","g":0,"t":"2025-03-15T18:21Z","v":40.25},
{"s":"E0704","g":0,"t":"2025-03-15T18:32Z","v":40.52},
{"s":"E0704","g":0,"t":"2025-03-15T18:39Z","v":41.04},
{"s":"E0704","g":0,"t":"2025-03-15T18:47Z","v":41.56},
{"s":"E0704","g":0,"t":"2025-03-15T18:56Z","v":41.35},
{"s":"E0704","g":0,"t":"2025-03-15T19:07Z","v":41.14},
{"s":"E0704","g":0,"t":"2025-03-15T19:17Z","v":41.46},
{"s":"E0704","g":0,"t":"2025-03-15T19:26Z","v":41.67},
{"s":"E0704","g":0,"t":"2025-03-15T19:37Z","v":41.83},
{"s":"E0704","g":0,"t":"2025-03-15T20:17Z","v":41.83},
{"s":"E0704","g":0,"t":"2025-03-15T20:27Z","v":41.46},
{"s":"E0704","g":0,"t":"2025-03-15T20:37Z","v":41.14},
{"s":"E0704","g":0,"t":"2025-03-15T20:47Z","v":40.83},
{"s":"E0704","g":0,"t":"2025-03-15T20:56Z","v":41.25},
{"s":"E0704","g":0,"t":"2025-03-15T21:07Z","v":41.56},
{"s":"E0704","g":0,"t":"2025-03-15T21:17Z","v":41.88},
{"s":"E0704","g":0,"t":"2025-03-15T21:22Z","v":41.35},
{"s":"E0704","g":0,"t":"2025-03-15T21:27Z","v":42.19},
{"s":"E0704","g":0,"t":"2025-03-15T21:37Z","v":41.67},
{"s":"E0704","g":0,"t":"2025-03-15T21:47Z","v":41.14},
{"s":"E0704","g":0,"t":"2025-03-15T21:57Z","v":40.94},
{"s":"E0704","g":0,"t":"2025-03-15T22:07Z","v":41.25},
{"s":"E0704","g":0,"t":"2025-03-15T22:17Z","v":40.83},
{"s":"E0704","g":0,"t":"2025-03-15T22:27Z","v":40.42},
{"s":"E0704","g":0,"t":"2025-03-15T22:37Z","v":40.21},
{"s":"E0704","g":0,"t":"2025-03-15T22:47Z","v":39.89},
{"s":"E0704","g":0,"t":"2025-03-15T22:57Z","v":39.79},
{"s":"E0704","g":0,"t":"2025-03-15T23:07Z","v":39.54},
{"s":"E0704","g":0,"t":"2025-03-15T23:17Z","v":39.75},
{"s":"E0704","g":0,"t":"2025-03-15T23:27Z","v":39.83},
{"s":"E0704","g":0,"t":"2025-03-15T23:37Z","v":39.89},
{"s":"E0704","g":0,"t":"2025-03-15T23:47Z","v":40.04},
{"s":"E0704","g":0,"t":"2025-03-15T23:57Z","v":40.11}
]
},
"layer": [
{
  "data": {"name": "obs"},
  "mark": {"type": "line", "strokeWidth": 1},
  "encoding": {
    "x": {"field": "t", "type": "temporal", "scale": {"type": "utc", "domain": [1741824000000, 1742083200000]},
      "axis": {"orient": "bottom", "values": [1741824000000,1741845600000,1741867200000,1741888800000,1741910400000,1741932000000,1741953600000,1741975200000,1741996800000,1742018400000,1742040000000,1742061600000,1742083200000], "ticks": false, "labelPadding": 6, "labelLineHeight": 15, "labelExpr": "[utcFormat(datum.value, '%m/%d'), utcFormat(datum.value, '%H:%M')]", "title": null}},
    "y": {"field": "v", "type": "quantitative", "scale": {"domain": [20, 45], "nice": false, "zero": false},
      "axis": {"orient": "left", "values": [20,25,30,35,40,45], "ticks": false, "labelPadding": 8, "title": "degrees F", "titleX": -37, "titleY": 200, "titleAngle": 270, "titleBaseline": "middle", "titleAlign": "center"}},
    "color": {"field": "s", "type": "nominal", "scale": {"domain": ["E0704 Analysis", "E0704"], "range": ["#ff0000", "#0080ff"]},
      "legend": {"title": null, "orient": "none", "legendX": 542.5, "legendY": 5, "symbolType": "M-2.6,0H2.6", "symbolSize": 121, "symbolStrokeWidth": 1, "labelAlign": "right", "labelOffset": -27.5, "labelFont": "DejaVu Sans Mono", "labelFontSize": 10, "labelColor": "black", "rowPadding": 2, "padding": 0, "labelLimit": 0}},
    "detail": {"field": "g", "type": "nominal"}
  }
},
{
  "data": {"name": "sun"},
  "mark": {"type": "rule", "color": "black", "strokeWidth": 1},
  "encoding": {
    "x": {"field": "t", "type": "temporal", "scale": {"type": "utc", "domain": [1741824000000, 1742083200000]},
      "axis": {"orient": "bottom", "values": [1741824000000,1741845600000,1741867200000,1741888800000,1741910400000,1741932000000,1741953600000,1741975200000,1741996800000,1742018400000,1742040000000,1742061600000,1742083200000], "labels": false, "tickSize": -7, "title": null}},
    "y": {"datum": 41.4, "type": "quantitative", "scale": {"domain": [20, 45], "nice": false, "zero": false},
      "axis": {"orient": "left", "values": [20,25,30,35,40,45], "labels": false, "tickSize": -6, "title": null}},
    "y2": {"datum": 20}
  }
},
{
  "data": {"name": "sun"},
  "mark": {"type": "text", "angle": 270, "align": "left", "baseline": "middle", "dy": 1, "font": "DejaVu Sans Mono", "fontSize": 10, "color": "black"},
  "encoding": {
    "x": {"field": "t", "type": "temporal", "scale": {"type": "utc", "domain": [1741824000000, 1742083200000]},
      "axis": {"orient": "bottom", "values": [1741831200000,1741838400000,1741852800000,1741860000000,1741874400000,1741881600000,1741896000000,1741903200000,1741917600000,1741924800000,1741939200000,1741946400000,1741960800000,1741968000000,1741982400000,1741989600000,1742004000000,1742011200000,1742025600000,1742032800000,1742047200000,1742054400000,1742068800000,1742076000000], "labels": false, "tickSize": -3, "title": null}},
    "y": {"datum": 41.7, "type": "quantitative", "scale": {"domain": [20, 45], "nice": false, "zero": false},
      "axis": {"orient": "right", "values": [20,25,30,35,40,45], "labels": false, "tickSize": -6, "title": null}},
    "text": {"field": "label"}
  }
},
{
  "data": {"name": "sun"},
  "mark": {"type": "rule", "opacity": 0},
  "encoding": {
    "x": {"field": "t", "type": "temporal", "scale": {"type": "utc", "domain": [1741824000000, 1742083200000]},
      "axis": {"orient": "top", "values": [1741824000000,1741845600000,1741867200000,1741888800000,1741910400000,1741932000000,1741953600000,1741975200000,1741996800000,1742018400000,1742040000000,1742061600000,1742083200000], "labels": false, "tickSize": -7, "title": null}},
    "y": {"datum": 41.4, "type": "quantitative", "scale": {"domain": [20, 45], "nice": false, "zero": false}, "axis": null},
    "y2": {"datum": 20}
  }
},
{
  "data": {"name": "sun"},
  "mark": {"type": "rule", "opacity": 0},
  "encoding": {
    "x": {"field": "t", "type": "temporal", "scale": {"type": "utc", "domain": [1741824000000, 1742083200000]},
      "axis": {"orient": "top", "values": [1741831200000,1741838400000,1741852800000,1741860000000,1741874400000,1741881600000,1741896000000,1741903200000,1741917600000,1741924800000,1741939200000,1741946400000,1741960800000,1741968000000,1741982400000,1741989600000,1742004000000,1742011200000,1742025600000,1742032800000,1742047200000,1742054400000,1742068800000,1742076000000], "labels": false, "tickSize": -3, "title": null}},
    "y": {"datum": 41.4, "type": "quantitative", "scale": {"domain": [20, 45], "nice": false, "zero": false}, "axis": null},
    "y2": {"datum": 20}
  }
}
]
}
